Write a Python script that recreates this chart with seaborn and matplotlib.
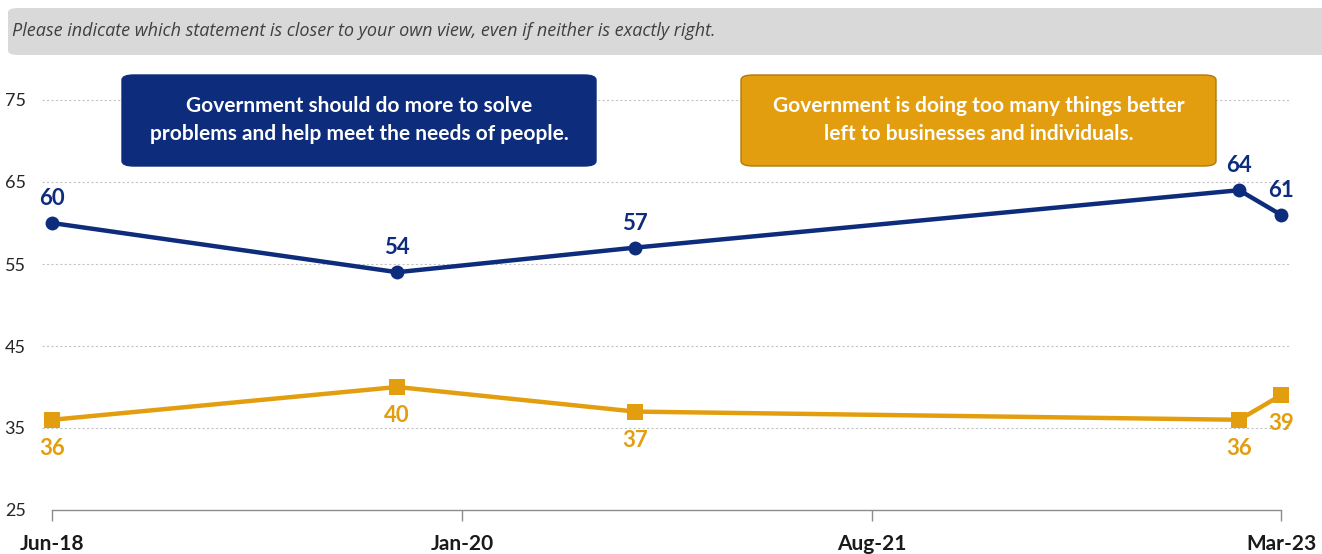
import matplotlib
matplotlib.use("Agg")
import matplotlib.pyplot as plt
from matplotlib.patches import FancyBboxPatch
import pandas as pd
import seaborn as sns

# Survey waves and shares (%)
survey_dates = ["2018-06-01", "2019-10-01", "2020-09-01", "2023-01-01", "2023-03-01"]
do_more = [60, 54, 57, 64, 61]
too_many = [36, 40, 37, 36, 39]

tick_dates = ["2018-06-01", "2020-01-01", "2021-08-01", "2023-03-01"]
tick_labels = ["Jun-18", "Jan-20", "Aug-21", "Mar-23"]
y_ticks = [25, 35, 45, 55, 65, 75]

question = "Please indicate which statement is closer to your own view, even if neither is exactly right."
label_more = "Government should do more to solve\nproblems and help meet the needs of people."
label_less = "Government is doing too many things better\nleft to businesses and individuals."

BLUE = "#0d2d7c"
GOLD = "#e39e0f"

sns.set_theme(style="white")
plt.rcParams["font.family"] = ["Lato", "DejaVu Sans"]

df = pd.DataFrame({"date": pd.to_datetime(survey_dates), "more": do_more, "less": too_many})

W, H = 1322, 554
fig = plt.figure(figsize=(W / 100, H / 100), dpi=100)
ax = fig.add_axes([52 / W, 44 / H, (1281 - 52) / W, (470.4 - 44) / H])

sns.lineplot(data=df, x="date", y="more", ax=ax, color=BLUE, lw=3.2, marker="o",
             markersize=10, markeredgewidth=0, clip_on=False, zorder=5)
sns.lineplot(data=df, x="date", y="less", ax=ax, color=GOLD, lw=3.2, marker="s",
             markersize=12, markeredgewidth=0, clip_on=False, zorder=5)

for d, v in zip(df["date"], df["more"]):
    ax.annotate(f"{v}", (d, v), xytext=(0, 10), textcoords="offset points",
                ha="center", va="bottom", fontsize=16, fontweight="bold", color=BLUE)
for d, v in zip(df["date"], df["less"]):
    ax.annotate(f"{v}", (d, v), xytext=(0, -13), textcoords="offset points",
                ha="center", va="top", fontsize=16, fontweight="bold", color=GOLD)

ax.set_xlim(pd.Timestamp(tick_dates[0]), pd.Timestamp(tick_dates[-1]))
ax.set_ylim(25, 77)
ax.set_yticks(y_ticks)
ax.set_yticklabels([str(t) for t in y_ticks], fontsize=13, color="#262626")
ax.set_xticks(pd.to_datetime(tick_dates))
ax.set_xticklabels(tick_labels, fontsize=15, fontweight="bold", color="#1a1a1a")
ax.tick_params(axis="y", left=False, length=0, pad=19)
ax.tick_params(axis="x", bottom=True, direction="out", length=8, width=1,
               color="#8c8c8c", pad=9)
ax.set_xlabel("")
ax.set_ylabel("")

for s in ["top", "right", "left"]:
    ax.spines[s].set_visible(False)
ax.spines["bottom"].set_color("#8c8c8c")
ax.spines["bottom"].set_linewidth(1)

for t in y_ticks[1:]:
    ax.axhline(t, xmin=-0.008, xmax=1.007, color="#c4c4c4", lw=0.8,
               ls=(0, (2, 2)), clip_on=False, zorder=1)

# Question banner
fig.patches.append(FancyBboxPatch((8 / W, (554 - 55) / H), 1330 / W, 47 / H,
                                  boxstyle="round,pad=0,rounding_size=0.008",
                                  transform=fig.transFigure, facecolor="#d9d9d9",
                                  edgecolor="none"))
fig.text(12 / W, (554 - 31) / H, question, fontsize=13, style="italic",
         color="#404040", va="center", ha="left", family=["Open Sans", "DejaVu Sans"])

# Statement boxes
def statement_box(x0, x1, color, edge, text):
    fig.patches.append(FancyBboxPatch((x0 / W, (554 - 166) / H), (x1 - x0) / W, 91 / H,
                                      boxstyle="round,pad=0,rounding_size=0.009",
                                      transform=fig.transFigure, facecolor=color,
                                      edgecolor=edge, lw=1))
    fig.text((x0 + x1) / 2 / W, (554 - 120) / H, text, fontsize=15, fontweight="bold",
             color="white", ha="center", va="center", linespacing=1.5)

statement_box(122, 596, BLUE, BLUE, label_more)
statement_box(741, 1216, GOLD, "#b07a0a", label_less)

fig.savefig("out.png", dpi=100)
